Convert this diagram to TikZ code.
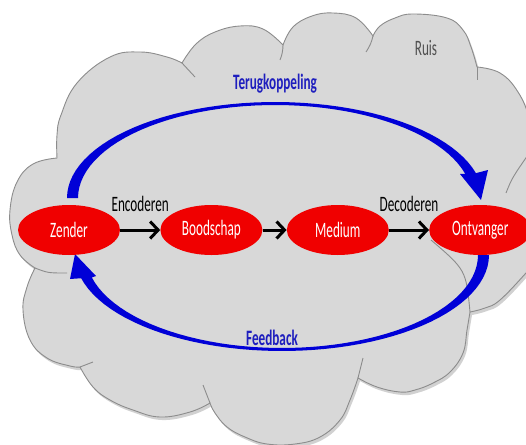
\documentclass[tikz,border=0pt]{standalone}
\usepackage{fontspec}
\newfontfamily\condfont{Carlito}[FakeStretch=0.6]
\usetikzlibrary{positioning,shapes.geometric,arrows.meta}
\definecolor{cloudfill}{RGB}{216,216,216}
\definecolor{cloudgray}{RGB}{140,140,140}
\definecolor{fbblue}{RGB}{0,0,215}
\definecolor{labelblue}{RGB}{30,30,190}
\definecolor{stagered}{RGB}{240,0,0}
\definecolor{ruisgray}{RGB}{80,80,80}
%% outline of the cloud, lobe by lobe
\newcommand{\cloudshape}{plot[smooth,tension=.7] coordinates {(57,158) (57,135) (61,115) (77,83) (110,57) (140,52) (167,57) (182,63)}
  -- plot[smooth,tension=.7] coordinates {(182,63) (196,44) (215,32) (240,26) (263,29) (283,45)}
  -- plot[smooth,tension=.7] coordinates {(283,45) (293,27) (312,16) (333,13) (356,18) (373,36)}
  -- plot[smooth,tension=.7] coordinates {(373,36) (380,26) (395,18) (413,14) (447,18) (463,30) (471,47) (477,67)}
  -- plot[smooth,tension=.7] coordinates {(477,67) (500,73) (518,92) (530,120) (540,160) (548,200) (545,245) (535,262) (526,273) (500,300) (485,308) (470,312)}
  -- plot[smooth,tension=.7] coordinates {(470,312) (467,330) (463,353) (450,372) (433,383) (415,390) (400,392) (377,387) (358,378)}
  -- plot[smooth,tension=.7] coordinates {(358,378) (350,400) (340,420) (320,437) (295,444) (267,444) (245,437) (227,427) (215,413) (210,403)}
  -- plot[smooth,tension=.7] coordinates {(210,403) (190,412) (160,417) (133,410) (110,400) (93,387) (80,367)}
  -- plot[smooth,tension=.7] coordinates {(80,367) (70,366) (47,358) (30,340) (23,310) (27,287) (35,268)}
  -- plot[smooth,tension=.7] coordinates {(35,268) (20,255) (12,235) (10,210) (17,182) (33,164) (57,158)}
  -- cycle}
\begin{document}
\begin{tikzpicture}[x=1pt,y=-1pt,
    stage/.style={ellipse,fill=stagered,minimum width=102pt,minimum height=50pt,inner sep=0pt,text=white,font=\condfont\fontsize{22}{26}\selectfont},
    flow/.style={line width=3pt,-{Straight Barb[length=8pt,width=17pt]}},
    lbl/.style={inner sep=2pt,font=\condfont\fontsize{22}{26}\selectfont},
    fblbl/.style={inner sep=2pt,text=labelblue,font=\condfont\bfseries\fontsize{22}{26}\selectfont},
    rim/.style={draw=cloudgray,line width=0.9pt},
    fb/.style={fill=fbblue}]
    \useasboundingbox (0,0) rectangle (526,444);
    \clip (0,0) rectangle (526,444);
    \fill[white] (0,0) rectangle (526,444);
    %% Cloud
    \fill[black!18,xshift=2pt,yshift=-3pt] \cloudshape;
    \fill[cloudfill] \cloudshape;
    \draw[rim] \cloudshape;
    \draw[rim] (182,63) -- (195,77);
    \draw[rim] (283,45) to[bend left=10] (280,60);
    \draw[rim] (373,36) to[bend left=10] (366,52);
    \draw[rim] (477,67) -- (477,80);
    \draw[rim] (506,193) .. controls (512,178) .. (530,152);
    \draw[rim] (470,312) .. controls (466,270) .. (431,240);
    \draw[rim] (358,378) -- (363,358);
    \draw[rim] (210,403) -- (203,385);
    \draw[rim] (80,367) -- (93,362);
    \draw[rim] (35,268) .. controls (48,273) .. (67,273);
    \node[lbl,text=ruisgray] (ruis) at (426,48) {Ruis};
    %% Feedback arcs
    \fill[fb] plot[domain=180:345,samples=50] ({275+208*cos(\x)},{198+96*sin(\x)})
        -- (488,170) -- (481,200) -- (460,174)
        -- plot[domain=345:180,samples=50] ({275+197*cos(\x)},{198+93*sin(\x)}) -- cycle;
    \fill[fb] plot[domain=0:166,samples=50] ({282+207*cos(\x)},{255+96*sin(\x)})
        -- (70,279) -- (75,254) -- (96,276)
        -- plot[domain=166:0,samples=50] ({282+196*cos(\x)},{255+93*sin(\x)}) -- cycle;
    \node[fblbl] (terugkoppeling) at (275,84) {Terugkoppeling};
    \node[fblbl] (feedback) at (272,338) {Feedback};
    %% Stages
    \node[stage] (zender) at (69,230) {Zender};
    \node[stage,right=40pt of zender] (boodschap) {Boodschap};
    \node[stage,right=24pt of boodschap] (medium) {Medium};
    \node[stage,right=40pt of medium] (ontvanger) {Ontvanger};
    \draw[flow] (zender) -- node[lbl,midway,above=15pt] (encoderen) {Encoderen} (boodschap);
    \draw[flow] (boodschap) -- (medium);
    \draw[flow] (medium) -- node[lbl,midway,above=15pt] (decoderen) {Decoderen} (ontvanger);
\end{tikzpicture}
\end{document}
